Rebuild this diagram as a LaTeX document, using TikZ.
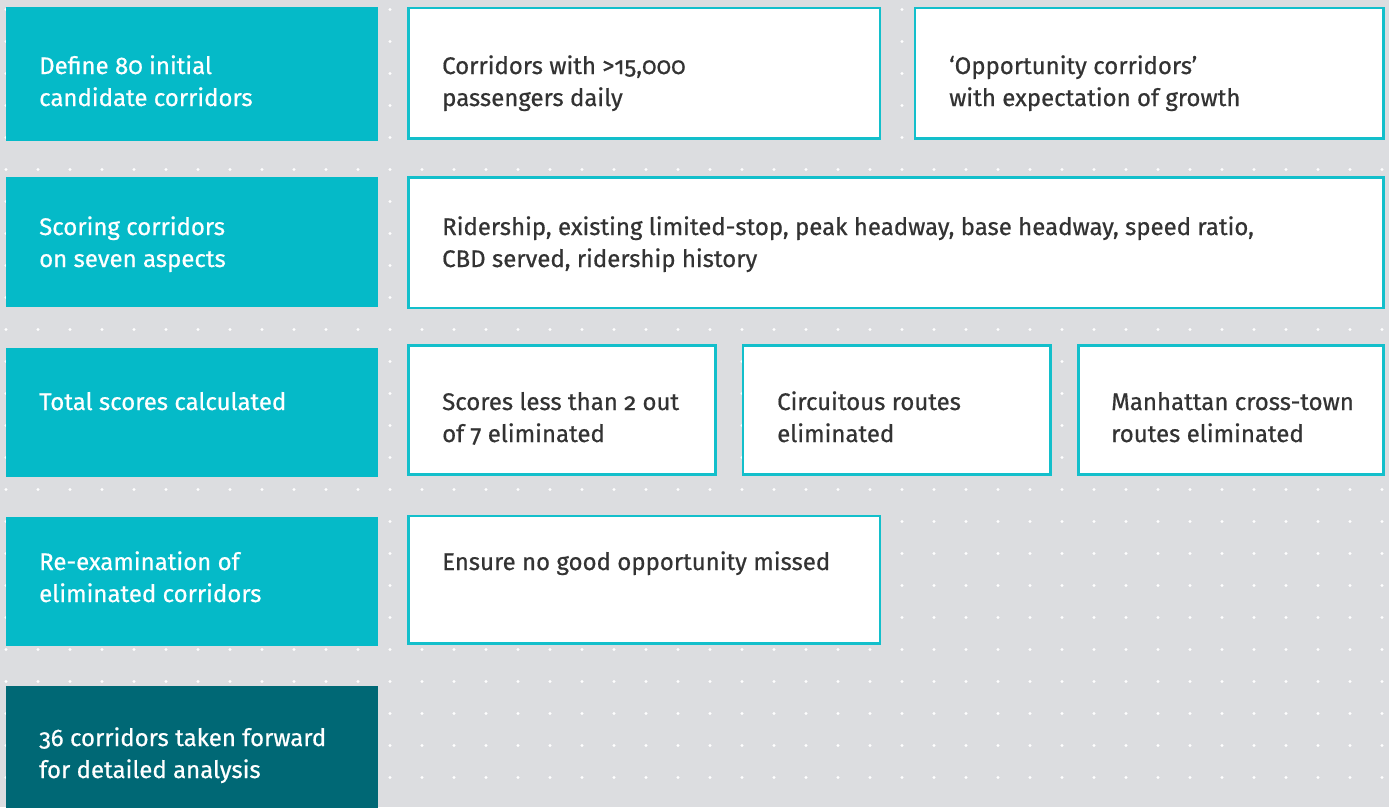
\documentclass[tikz,border=0pt]{standalone}
\usepackage{fontspec}
\setmainfont{Fira Sans}[RawFeature={+onum}, FakeBold=0.6, BoldFont={Fira Sans}]
\definecolor{bgc}{HTML}{DCDDE0}
\definecolor{tealc}{HTML}{05BAC8}
\definecolor{darkteal}{HTML}{006875}
\definecolor{bordc}{HTML}{13BFCB}
\definecolor{txtc}{HTML}{333333}
\tikzset{
  tealbox/.style={fill=tealc, draw=none, inner sep=0pt, outer sep=0pt, anchor=north west, minimum width=371.4pt},
  darkbox/.style={tealbox, fill=darkteal},
  whitebox/.style={fill=white, draw=bordc, line width=2.7pt, inner sep=0pt, outer sep=0pt, anchor=north west},
  ltxt/.style={anchor=base west, inner sep=0pt, align=left, text=white, font=\fontsize{24}{32}\selectfont\bfseries},
  wtxt/.style={ltxt, text=txtc},
}
\begin{document}
\begin{tikzpicture}[x=1pt,y=-1pt]
\useasboundingbox (0,0) rectangle (1389,807);
\fill[bgc] (0,0) rectangle (1389,807);
\foreach \i in {0,...,43} {
  \foreach \j in {0,...,25} {
    \fill[white] ({6+32*\i},{9.5+32*\j}) circle (1.7);
  }
}
% left column
\node[tealbox, minimum height=134pt] (s1) at (6.3,7) {};
\node[tealbox, minimum height=129.7pt] (s2) at (6.3,177) {};
\node[tealbox, minimum height=129pt] (s3) at (6.3,347.7) {};
\node[tealbox, minimum height=129pt] (s4) at (6.3,516.7) {};
\node[darkbox, minimum height=125pt] (s5) at (6.3,685.7) {};
% text nodes: base anchor = baseline of last line
\node[ltxt] (t1) at (39,106) {Define 80 initial\\candidate corridors};
\node[ltxt] (t2) at (39,267) {Scoring corridors\\on seven aspects};
\node[ltxt] (t3) at (39,410) {Total scores calculated};
\node[ltxt] (t4) at (39,602) {Re-examination of\\eliminated corridors};
\node[ltxt] (t5) at (39,778) {36 corridors taken forward\\for detailed analysis};
% white boxes
\node[whitebox, minimum width=471.7pt, minimum height=130.7pt] (w1a) at (408.3,8) {};
\node[whitebox, minimum width=468.7pt, minimum height=130.7pt] (w1b) at (915,8) {};
\node[whitebox, minimum width=975.4pt, minimum height=130.7pt] (w2) at (408.3,177.3) {};
\node[whitebox, minimum width=307.2pt, minimum height=129pt] (w3a) at (408.3,345.3) {};
\node[whitebox, minimum width=307.7pt, minimum height=129pt] (w3b) at (743,345.3) {};
\node[whitebox, minimum width=305.4pt, minimum height=129pt] (w3c) at (1078.3,345.3) {};
\node[whitebox, minimum width=471.7pt, minimum height=127.7pt] (w4) at (408.3,516) {};
\node[wtxt] (u1a) at (442,106) {Corridors with >15,000\\passengers daily};
\node[wtxt] (u1b) at (949,106) {‘Opportunity corridors’\\with expectation of growth};
\node[wtxt] (u2) at (442,267) {Ridership, existing limited-stop, peak headway, base headway, speed ratio,\\CBD served, ridership history};
\node[wtxt] (u3a) at (442,442) {Scores less than 2 out\\of 7 eliminated};
\node[wtxt] (u3b) at (777,442) {Circuitous routes\\eliminated};
\node[wtxt] (u3c) at (1111,442) {Manhattan cross-town\\routes eliminated};
\node[wtxt] (u4) at (442,570) {Ensure no good opportunity missed};
\end{tikzpicture}
\end{document}
